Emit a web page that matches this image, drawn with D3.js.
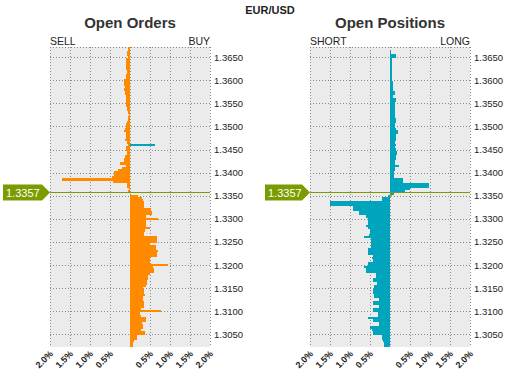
<!DOCTYPE html>
<html><head><meta charset="utf-8">
<script src="https://cdnjs.cloudflare.com/ajax/libs/d3/7.8.5/d3.min.js"></script>
<style>
body{margin:0;background:#fff}
text{font-family:"Liberation Sans",Arial,sans-serif}
</style>
</head><body>
<svg id="c" width="506" height="371"></svg>
<script>
// ---------------- DATA ----------------
const pair = "EUR/USD";
const currentPrice = 1.3357;
const priceTicks = [1.3050,1.3100,1.3150,1.3200,1.3250,1.3300,1.3350,1.3400,1.3450,1.3500,1.3550,1.3600,1.3650];
const pctTicks = [-2,-1.5,-1,-0.5,0.5,1,1.5,2];
const gridPct = [-2,-1.5,-1,-0.5,0,0.5,1,1.5,2];

// price buckets above current price (bottom to top)
const abovePrices = [1.3355,1.3360,1.3365,1.3370,1.3375,1.3380,1.3385,1.3390,1.3395,1.3400,
  1.3405,1.3410,1.3415,1.3420,1.3425,1.3430,1.3435,1.3440,1.3445,1.3450,
  1.3455,1.3460,1.3465,1.3470,1.3475,1.3480,1.3485,1.3490,1.3495,1.3500,
  1.3505,1.3510,1.3515,1.3520,1.3525,1.3530,1.3535,1.3540,1.3545,1.3550,
  1.3555,1.3560,1.3565,1.3570,1.3575,1.3580,1.3585,1.3590,1.3595,1.3600,
  1.3605,1.3610,1.3615,1.3620,1.3625,1.3630,1.3635,1.3640,1.3645,1.3650,
  1.3655,1.3660,1.3665,1.3670];
const sellOrders = [0,0.06,0.03,0.08,0.08,0.43,1.71,0.44,0.39,0.39,
  0.30,0.19,0.11,0.26,0.14,0.16,0.13,0.08,0.08,0.11,
  0.11,0.06,0.08,0.12,0.10,0.09,0.10,0.14,0.12,0.09,
  0.09,0.07,0.04,0.05,0.03,0.05,0.07,0.07,0.11,0.09,
  0.09,0.10,0.10,0.12,0.12,0.14,0.12,0.14,0.15,0.15,
  0.10,0.10,0.07,0.07,0.09,0.09,0.09,0.11,0.11,0.05,
  0.07,0.07,0.05,0.05];
const longPositions = [0.10,0.37,0.50,0.97,0.97,0.32,0.32,0.10,0.10,0.10,
  0.12,0.12,0.22,0.12,0.12,0.16,0.16,0.18,0.18,0.15,
  0.12,0.15,0.12,0.15,0.16,0.15,0.19,0.19,0.15,0.12,
  0.12,0.16,0.16,0.12,0.12,0.12,0.12,0.12,0.12,0.12,
  0.15,0.15,0.08,0.12,0.12,0.08,0.08,0.07,0.07,0.04,
  0.04,0.06,0.06,0.06,0.06,0.06,0.06,0.06,0.05,0.15,
  0.15,0.03,0,0];

// price buckets below current price (top to bottom)
const belowPrices = [1.3350,1.3345,1.3340,1.3335,1.3330,1.3325,1.3320,1.3315,1.3310,1.3305,
  1.3300,1.3295,1.3290,1.3285,1.3280,1.3275,1.3270,1.3265,1.3260,1.3255,
  1.3250,1.3245,1.3240,1.3235,1.3230,1.3225,1.3220,1.3215,1.3210,1.3205,
  1.3200,1.3195,1.3190,1.3185,1.3180,1.3175,1.3170,1.3165,1.3160,1.3155,
  1.3150,1.3145,1.3140,1.3135,1.3130,1.3125,1.3120,1.3115,1.3110,1.3105,
  1.3100,1.3095,1.3090,1.3085,1.3080,1.3075,1.3070,1.3065,1.3060,1.3055,
  1.3050,1.3045,1.3040,1.3035,1.3030,1.3025];
const buyOrders = [0.21,0.30,0.32,0.34,0.36,0.36,0.53,0.55,0.55,0.40,
  0.71,0.40,0.39,0.39,0.51,0.38,0.36,0.34,0.68,0.68,
  0.68,0.51,0.64,0.64,0.71,0.68,0.68,0.51,0.51,0.51,
  0.94,0.57,0.60,0.60,0.49,0.45,0.45,0.43,0.43,0.40,
  0.32,0.36,0.36,0.38,0.32,0.32,0.34,0.36,0.36,0.28,
  0.78,0.26,0.28,0.40,0.40,0.30,0.32,0.32,0.28,0.38,
  0.38,0.18,0.18,0.11,0.07,0.07];
const shortPositions = [0.04,0.21,0.21,1.50,1.50,0.92,0.92,0.77,0.77,0.60,
  0.55,0.55,0.54,0.60,0.56,0.50,0.50,0.52,0.65,0.48,
  0.48,0.47,0.47,0.54,0.54,0.54,0.43,0.45,0.43,0.54,
  0.54,0.65,0.59,0.59,0.35,0.35,0.43,0.43,0.33,0.40,
  0.40,0.43,0.43,0.40,0.40,0.28,0.42,0.42,0.28,0.43,
  0.43,0.30,0.30,0.54,0.43,0.28,0.28,0.50,0.45,0.43,
  0.43,0.20,0.20,0.18,0.15,0.15];

// odd-coloured single buckets
const buyAbovePrices = [1.3460];
const buyAbove = [0.62];
const posMarkerPrices = [1.3350];
const posMarker = [0.05];

// ---------------- DRAW ----------------
const ORANGE = "#ff8a00", TEAL = "#00a5bd", GREEN = "#7a9c00", BG = "#ebebeb";
const bucket = 0.0005;
const svg = d3.select("#c");
const y = d3.scaleLinear().domain([1.30225, 1.36719]).range([347, 47]);
const plotTop = 47, plotBottom = 347;

svg.append("text").attr("x", 270).attr("y", 13.5).attr("text-anchor", "middle")
  .attr("font-size", 11).attr("font-weight", "bold").attr("fill", "#222").text(pair);

function panel(id, x0, title, leftLabel, rightLabel) {
  const x = d3.scaleLinear().domain([-2, 2]).range([x0, x0 + 160]);
  const g = svg.append("g");
  const clipId = "clip" + id;
  svg.append("defs").append("clipPath").attr("id", clipId)
    .append("rect").attr("x", x0).attr("y", plotTop).attr("width", 160).attr("height", plotBottom - plotTop);
  g.append("rect").attr("x", x0).attr("y", plotTop).attr("width", 160).attr("height", plotBottom - plotTop).attr("fill", BG);
  const grid = g.append("g").attr("stroke", "#8a8a8a").attr("stroke-dasharray", "1,2").attr("shape-rendering", "crispEdges");
  grid.selectAll(".v").data(gridPct).join("line")
    .attr("x1", d => Math.round(x(d)) + 0.5).attr("x2", d => Math.round(x(d)) + 0.5)
    .attr("y1", plotTop).attr("y2", plotBottom);
  grid.selectAll(".h").data(priceTicks).join("line")
    .attr("x1", x0).attr("x2", x0 + 160)
    .attr("y1", d => Math.round(y(d)) + 0.5).attr("y2", d => Math.round(y(d)) + 0.5);
  grid.append("line").attr("x1", x0).attr("x2", x0 + 160).attr("y1", plotTop + 0.5).attr("y2", plotTop + 0.5);

  svg.append("text").attr("x", x0 + 80).attr("y", 28).attr("text-anchor", "middle")
    .attr("font-size", 15).attr("font-weight", "bold").attr("fill", "#333").text(title);
  svg.append("text").attr("x", x0).attr("y", 45).attr("font-size", 10.5).attr("fill", "#222").text(leftLabel);
  svg.append("text").attr("x", x0 + 160).attr("y", 45).attr("text-anchor", "end").attr("font-size", 10.5).attr("fill", "#222").text(rightLabel);

  const ya = d3.axisRight(y).tickValues(priceTicks).tickSize(0).tickPadding(4).tickFormat(d3.format(".4f"));
  const ax = svg.append("g").attr("transform", `translate(${x0 + 160},0)`).call(ya);
  ax.select(".domain").remove();
  ax.selectAll("text").attr("font-size", 9.5).attr("fill", "#222").attr("font-family", '"Liberation Sans",Arial,sans-serif');

  const xa = d3.axisBottom(x).tickValues(pctTicks).tickSize(0).tickFormat(d => Math.abs(d).toFixed(1) + "%");
  const bx = svg.append("g").attr("transform", `translate(1,${plotBottom + 5})`).call(xa);
  bx.select(".domain").remove();
  bx.selectAll("text").attr("font-size", 9).attr("font-weight", "bold").attr("fill", "#222")
    .attr("font-family", '"Liberation Sans",Arial,sans-serif')
    .attr("text-anchor", "end").attr("y", 0).attr("dy", "0.35em").attr("transform", "rotate(-45)");

  const bars = g.append("g").attr("clip-path", `url(#${clipId})`).attr("shape-rendering", "crispEdges");
  return { x, bars };
}

function drawBars(p, prices, values, sign, color) {
  const data = prices.map((d, i) => ({ p: d, v: values[i] })).filter(d => d.v > 0);
  p.bars.append("g").selectAll("rect").data(data).join("rect")
    .attr("x", d => Math.min(p.x(0), p.x(sign * d.v)))
    .attr("width", d => Math.abs(p.x(sign * d.v) - p.x(0)))
    .attr("y", d => Math.round(y(d.p + bucket / 2)))
    .attr("height", d => Math.round(y(d.p - bucket / 2)) - Math.round(y(d.p + bucket / 2)))
    .attr("fill", color);
}

function marker(xLeft, xTip, lineEnd) {
  const cy = Math.round(y(currentPrice)) + 0.5;
  svg.append("line").attr("x1", xTip).attr("x2", lineEnd).attr("y1", cy).attr("y2", cy)
    .attr("stroke", GREEN).attr("stroke-width", 1.2);
  const h = 8;
  svg.append("path")
    .attr("d", `M${xLeft},${cy - h}L${xTip - 8},${cy - h}L${xTip},${cy}L${xTip - 8},${cy + h}L${xLeft},${cy + h}Z`)
    .attr("fill", GREEN);
  svg.append("text").attr("x", xLeft + 3).attr("y", cy + 4).attr("font-size", 11).attr("fill", "#fff")
    .text(currentPrice.toFixed(4));
}

const orders = panel("o", 50, "Open Orders", "SELL", "BUY");
drawBars(orders, abovePrices, sellOrders, -1, ORANGE);
drawBars(orders, belowPrices, buyOrders, 1, ORANGE);
drawBars(orders, buyAbovePrices, buyAbove, 1, TEAL);

const positions = panel("p", 310, "Open Positions", "SHORT", "LONG");
drawBars(positions, abovePrices, longPositions, 1, TEAL);
drawBars(positions, belowPrices, shortPositions, -1, TEAL);
drawBars(positions, posMarkerPrices, posMarker, 1, ORANGE);

marker(3, 50, 210);
marker(265, 310, 470);
</script>
</body></html>
